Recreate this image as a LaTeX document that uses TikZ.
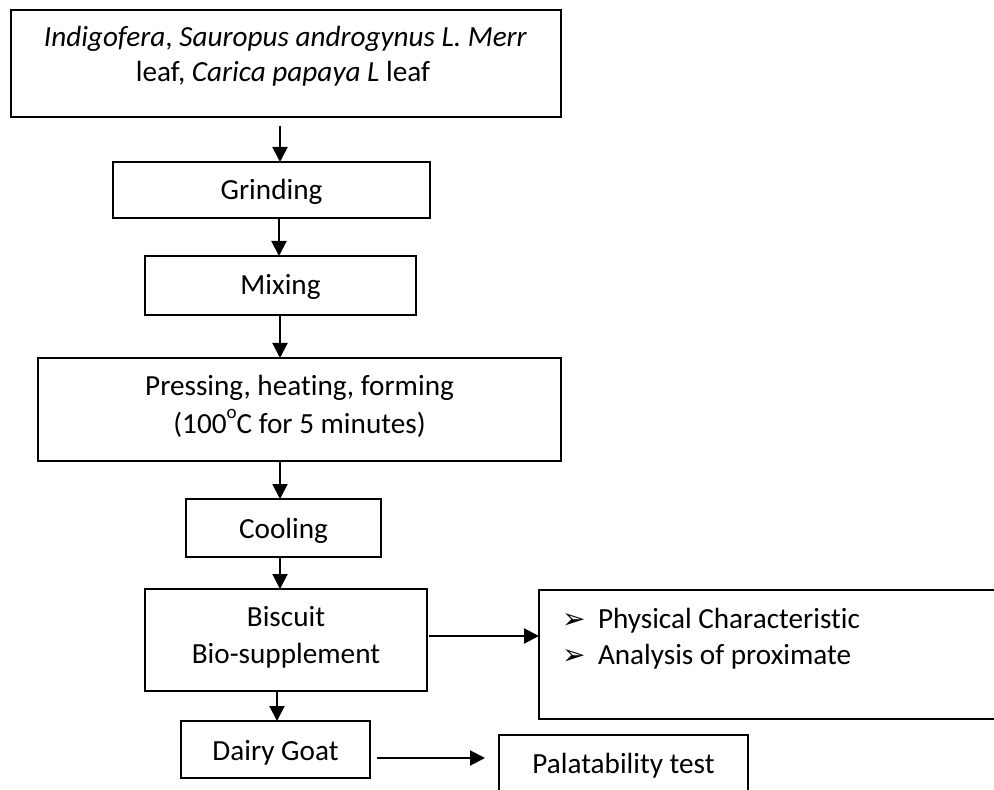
\documentclass[tikz,border=0pt]{standalone}
\usepackage{fontspec}
\setmainfont{Carlito}[Ligatures=NoCommon]
\newfontfamily\dejavu{DejaVu Sans}
\usetikzlibrary{arrows.meta}
\tikzset{
  box/.style={draw, line width=0.8pt, inner sep=0pt, outer sep=0pt},
  lbl/.style={inner sep=0pt, outer sep=0pt, anchor=base, font=\fontsize{14.6}{17.5}\selectfont},
  lblw/.style={lbl, anchor=base west},
  arr/.style={-{Triangle[width=7.5pt,length=7.5pt]}, line width=1pt}
}
\newcommand{\bulx}{\makebox[18pt][l]{\dejavu\fontsize{14}{14}\selectfont ➢}}
\newcommand{\degsup}{\raisebox{1.05ex}{\fontsize{9.5}{9.5}\selectfont o}}
\begin{document}
\begin{tikzpicture}[x=0.5pt,y=-0.5pt]
\useasboundingbox (0,0) rectangle (994,790);
\clip (0,0) rectangle (994,790);
% boxes
\node[box, minimum width=275pt,   minimum height=53.5pt] (src)   at (286,63.5) {};
\node[box, minimum width=158.5pt, minimum height=28pt]   (grind) at (271.5,190) {};
\node[box, minimum width=135.5pt, minimum height=29.5pt] (mix)   at (280.5,285.5) {};
\node[box, minimum width=261.5pt, minimum height=51.5pt] (press) at (299.5,409.5) {};
\node[box, minimum width=97.5pt,  minimum height=29pt]   (cool)  at (283.5,528) {};
\node[box, minimum width=141pt,   minimum height=51pt]   (bisc)  at (286,640) {};
\node[box, minimum width=94.5pt,  minimum height=28.5pt] (goat)  at (275.5,749.5) {};
\node[box, minimum width=230.5pt, minimum height=64.5pt] (tests) at (769.5,654.5) {};
\node[box, minimum width=124.5pt, minimum height=32.5pt] (pal)   at (623.5,767.5) {};
% labels
\node[lbl] (src1) at (285.5,47) {\textit{Indigofera}, \textit{Sauropus androgynus L. Merr}};
\node[lbl] (src2) at (283,82) {leaf, \textit{Carica papaya L} leaf};
\node[lbl] (grindt) at (271.5,200) {Grinding};
\node[lbl] (mixt) at (280.5,295) {Mixing};
\node[lbl] (press1) at (299.5,395) {Pressing, heating, forming};
\node[lbl] (press2) at (299.5,433) {(100\degsup C for 5 minutes)};
\node[lbl] (coolt) at (283.5,538) {Cooling};
\node[lbl] (bisc1) at (286,626) {Biscuit};
\node[lbl] (bisc2) at (286,663) {Bio-supplement};
\node[lbl] (goatt) at (275.5,760) {Dairy Goat};
\node[lbl] (palt) at (623.5,773) {Palatability test};
\node[lblw] (tests1) at (562,628) {\bulx Physical Characteristic};
\node[lblw] (tests2) at (562,664) {\bulx Analysis of proximate};
% connectors
\coordinate (spine) at (280,0);
\coordinate (spineb) at (279,0);
\coordinate (spinec) at (277,0);
\draw[arr] ([yshift=-4.5pt]src.south -| spine) -- (grind.north -| spine);
\draw[arr] (grind.south -| spineb) -- (mix.north -| spineb);
\draw[arr] (mix.south -| spine) -- (press.north -| spine);
\draw[arr] (press.south -| spine) -- (cool.north -| spine);
\draw[arr] (cool.south -| spine) -- (bisc.north -| spine);
\draw[arr] (bisc.south -| spinec) -- (goat.north -| spinec);
\draw[arr] ([xshift=1pt,yshift=2pt]bisc.east) -- ([yshift=2pt]bisc.east -| tests.west);
\draw[arr] ([xshift=3.5pt,yshift=-4.25pt]goat.east) -- ([xshift=-7pt,yshift=-4.25pt]goat.east -| pal.west);
\end{tikzpicture}
\end{document}
